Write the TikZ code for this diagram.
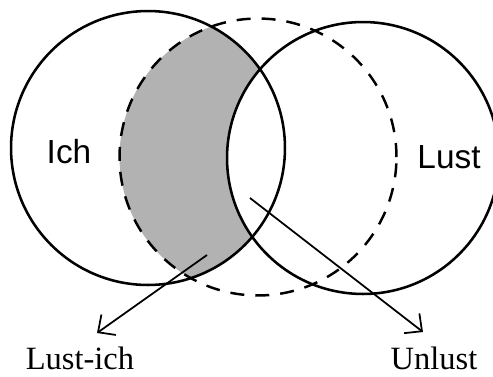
\documentclass[tikz,border=0pt]{standalone}
\usepackage{fontspec}
\setmainfont{Liberation Serif}
\newfontfamily\labelsans{Liberation Sans}
\usetikzlibrary{arrows.meta}

\begin{document}
\begin{tikzpicture}[
  x=0.02cm, y=-0.02cm,
  ring/.style={draw, line width=1.45pt},
  ghost/.style={draw, line width=1.4pt, dash pattern=on 0.28cm off 0.22cm},
  region/.style={font=\labelsans\fontsize{19}{21}\selectfont},
  term/.style={font=\fontsize{18.5}{20}\selectfont},
  pointer/.style={-{Straight Barb[length=2.6mm, width=5mm]}, line width=1pt}
]
\useasboundingbox (0,0) rectangle (493,376);
\coordinate (ichc) at (148,148);
\coordinate (shiftc) at (258,157);
\coordinate (lustc) at (363,158);

% shaded crescent
\begin{scope}
  \clip (ichc) circle[radius=2.74cm];
  \clip (shiftc) circle[radius=2.77cm];
  \fill[gray!60] (shiftc) circle[radius=2.77cm];
  \fill[white] (lustc) circle[radius=2.72cm];
\end{scope}

\draw[ring] (ichc) circle[radius=2.74cm];
\draw[ghost] (shiftc) circle[radius=2.77cm];
\draw[ring] (lustc) circle[radius=2.72cm];

\node[region] (ich) at (69,152) {Ich};
\node[region] (lust) at (449,157) {Lust};
\node[term] (lustich) at (80,358) {Lust-ich};
\node[term] (unlust) at (434,358) {Unlust};

\coordinate (from1) at (207,255);
\coordinate (tip1) at (97,333);
\coordinate (from2) at (250,198);
\coordinate (tip2) at (423,332);
\draw[pointer] (from1) -- (tip1);
\draw[pointer] (from2) -- (tip2);
\end{tikzpicture}
\end{document}
